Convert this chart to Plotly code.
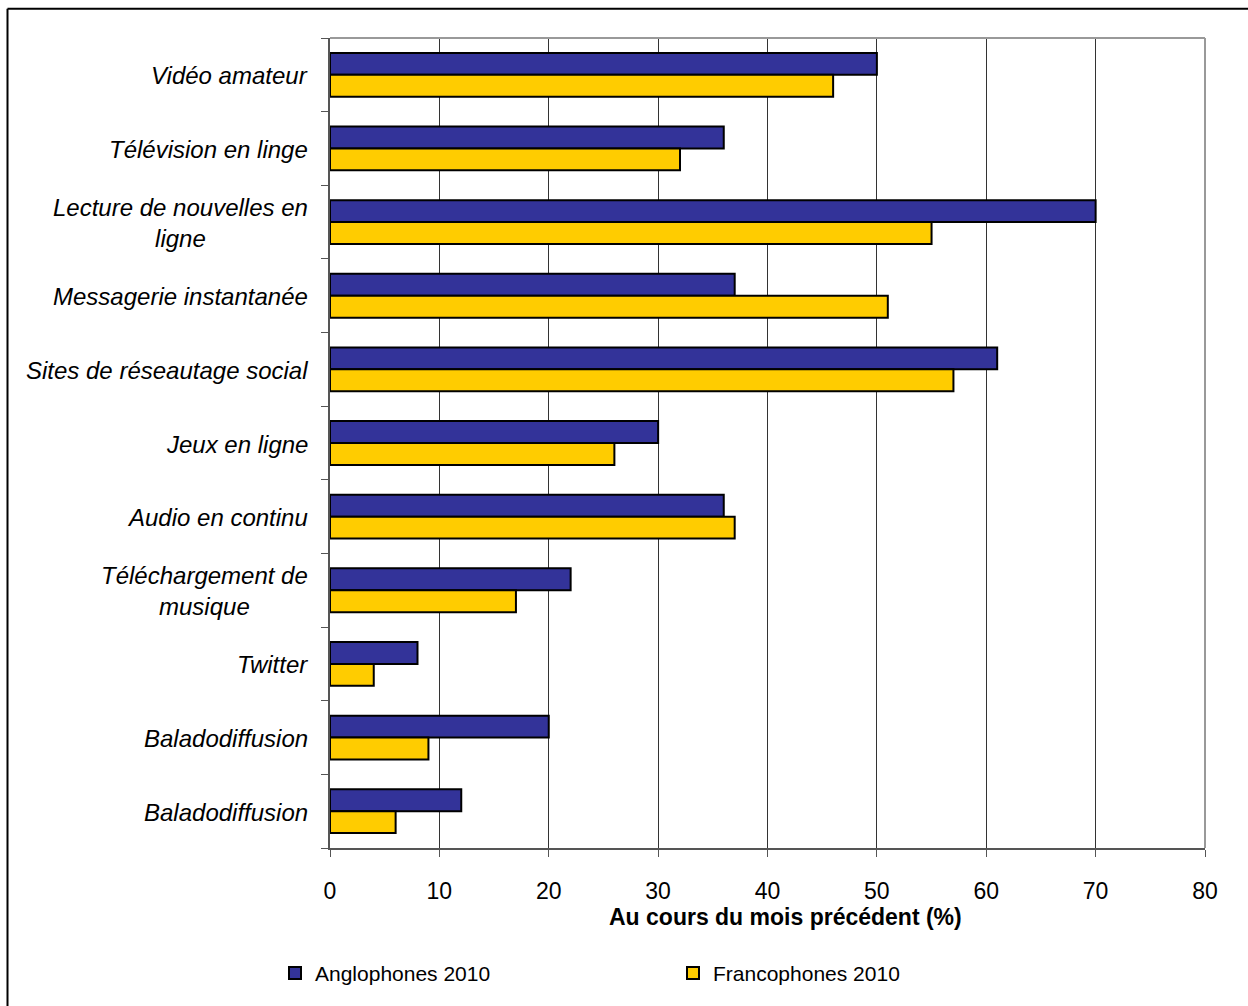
import plotly.graph_objects as go

categories = ["Vidéo amateur", "Télévision en linge", "Lecture de nouvelles en<br>ligne",
              "Messagerie instantanée", "Sites de réseautage social", "Jeux en ligne",
              "Audio en continu", "Téléchargement de<br>musique", "Twitter",
              "Baladodiffusion", "Baladodiffusion"]
anglophones = [50, 36, 70, 37, 61, 30, 36, 22, 8, 20, 12]
francophones = [46, 32, 55, 51, 57, 26, 37, 17, 4, 9, 6]
series_names = ["Anglophones 2010", "Francophones 2010"]
x_ticks = [0, 10, 20, 30, 40, 50, 60, 70, 80]
x_title = "Au cours du mois précédent (%)"

W, H = 1248, 1006
ML, MR, MT, MB = 330, 43, 38, 154
PW, PH = W - ML - MR, H - MT - MB

def px_x(p):
    return (p - ML) / PW

def px_y(p):
    return (H - MB - p) / PH

pos = list(range(len(categories)))
FONT = "Liberation Sans, Arial, sans-serif"

fig = go.Figure()
fig.add_trace(go.Bar(y=pos, x=anglophones, orientation="h", name=series_names[0],
                     marker=dict(color="#333399", line=dict(color="#000000", width=2)),
                     legend="legend"))
fig.add_trace(go.Bar(y=pos, x=francophones, orientation="h", name=series_names[1],
                     marker=dict(color="#FFCC00", line=dict(color="#000000", width=2)),
                     legend="legend2"))

annotations = []
for i, c in enumerate(categories):
    annotations.append(dict(x=0, xref="paper", y=i, yref="y", text=c, showarrow=False,
                            xanchor="right", yanchor="middle", align="center", xshift=-20, yshift=-1,
                            font=dict(family=FONT, size=24, color="#000000", style="italic")))
annotations.append(dict(x=px_x(785), xref="paper", y=px_y(921), yref="paper", text="<b>" + x_title + "</b>",
                        showarrow=False, xanchor="center", yanchor="middle",
                        font=dict(family=FONT, size=23, color="#000000")))

shapes = [
    dict(type="line", xref="paper", yref="paper", x0=0, x1=1, y0=1, y1=1, line=dict(color="#999999", width=2)),
    dict(type="line", xref="paper", yref="paper", x0=1, x1=1, y0=0, y1=1, line=dict(color="#999999", width=2)),
    dict(type="line", xref="paper", yref="paper", x0=px_x(7.5), x1=px_x(W + 5), y0=px_y(8.5), y1=px_y(8.5),
         line=dict(color="#000000", width=2)),
    dict(type="line", xref="paper", yref="paper", x0=px_x(7.5), x1=px_x(7.5), y0=px_y(8.5), y1=px_y(H + 5),
         line=dict(color="#000000", width=2)),
]

fig.update_layout(
    width=W, height=H,
    margin=dict(l=ML, r=MR, t=MT, b=MB, pad=0),
    paper_bgcolor="#FFFFFF", plot_bgcolor="#FFFFFF",
    barmode="group", bargap=0.405, bargroupgap=0,
    font=dict(family=FONT, color="#000000"),
    xaxis=dict(range=[0, 80], tickvals=x_ticks, ticktext=[str(v) for v in x_ticks],
               showgrid=True, gridcolor="#333333", gridwidth=1,
               showline=True, linecolor="#555555", linewidth=2,
               ticks="outside", ticklen=7, tickcolor="#555555", tickwidth=1,
               tickfont=dict(family=FONT, size=23, color="#000000"),
               ticklabelstandoff=14, zeroline=False, fixedrange=True),
    yaxis=dict(range=[len(categories) - 0.5, -0.5], tickvals=pos, showticklabels=False,
               ticks="", showgrid=False, zeroline=False,
               showline=True, linecolor="#555555", linewidth=2,
               minor=dict(tickvals=[i - 0.5 for i in range(len(categories) + 1)], ticks="outside",
                          ticklen=7, tickcolor="#555555", tickwidth=1, showgrid=False),
               fixedrange=True),
    legend=dict(orientation="h", x=px_x(275), xanchor="left", y=px_y(978), yanchor="middle",
                font=dict(family=FONT, size=21, color="#000000"), bgcolor="rgba(0,0,0,0)"),
    legend2=dict(orientation="h", x=px_x(673), xanchor="left", y=px_y(978), yanchor="middle",
                 font=dict(family=FONT, size=21, color="#000000"), bgcolor="rgba(0,0,0,0)"),
    annotations=annotations,
    shapes=shapes,
    showlegend=True,
)

fig.write_html("out.html")
